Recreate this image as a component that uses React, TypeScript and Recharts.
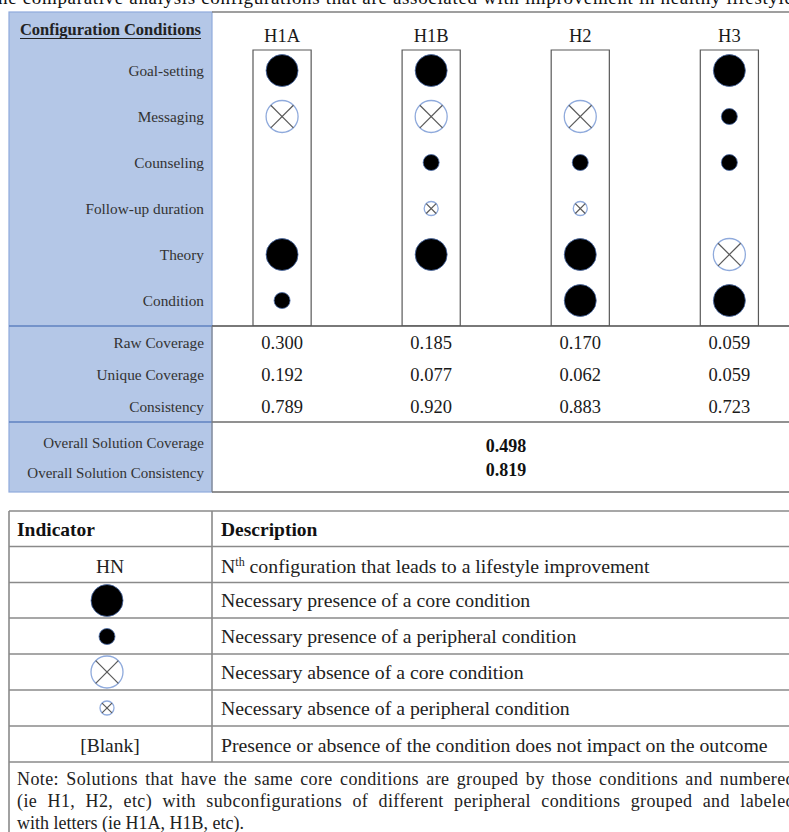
import React from 'react';
import { ScatterChart, Scatter, XAxis, YAxis, ReferenceArea } from 'recharts';

const SERIF = '"Liberation Serif", "Times New Roman", serif';

const CONFIGS = ['H1A', 'H1B', 'H2', 'H3'];
const CONDITIONS = ['Goal-setting', 'Messaging', 'Counseling', 'Follow-up duration', 'Theory', 'Condition'];
// C = core presence, P = peripheral presence, X = core absence, x = peripheral absence, '' = blank
const H1A = ['C', 'X', '', '', 'C', 'P'];
const H1B = ['C', 'X', 'P', 'x', 'C', ''];
const H2 = ['', 'X', 'P', 'x', 'C', 'C'];
const H3 = ['C', 'P', 'P', '', 'X', 'C'];
const COLUMNS = [H1A, H1B, H2, H3];

const METRICS = ['Raw Coverage', 'Unique Coverage', 'Consistency'];
const RAW_COVERAGE = [0.3, 0.185, 0.17, 0.059];
const UNIQUE_COVERAGE = [0.192, 0.077, 0.062, 0.059];
const CONSISTENCY = [0.789, 0.92, 0.883, 0.723];
const METRIC_VALUES = [RAW_COVERAGE, UNIQUE_COVERAGE, CONSISTENCY];

const OVERALL_LABELS = ['Overall Solution Coverage', 'Overall Solution Consistency'];
const OVERALL_COVERAGE = 0.498;
const OVERALL_CONSISTENCY = 0.819;

const LEGEND_KINDS = ['HN', 'C', 'P', 'X', 'x', '[Blank]'];
const LEGEND_TEXT = [
  'configuration that leads to a lifestyle improvement',
  'Necessary presence of a core condition',
  'Necessary presence of a peripheral condition',
  'Necessary absence of a core condition',
  'Necessary absence of a peripheral condition',
  'Presence or absence of the condition does not impact on the outcome',
];
const NOTE_LINES = [
  'Note: Solutions that have the same core conditions are grouped by those conditions and numbered',
  '(ie H1, H2, etc) with subconfigurations of different peripheral conditions grouped and labeled',
  'with letters (ie H1A, H1B, etc).',
];

const gridPoints = COLUMNS.flatMap((col, i) =>
  col.map((kind, j) => ({ x: i, y: j, kind }))
).filter((d) => d.kind !== '');

const metricPoints = METRIC_VALUES.flatMap((vals, j) =>
  vals.map((v, i) => ({ x: i, y: j, value: v }))
);

const X_DOMAIN: [number, number] = [-0.47, 3.4];
const NOTE_FONT = 18;
const NOTE_WIDTH = 778;
const NOTE_LETTER = 0.4;

// word spacing that justifies a note line to NOTE_WIDTH
function justifySpacing(line: string) {
  if (typeof document === 'undefined') return 3;
  const ctx = document.createElement('canvas').getContext('2d');
  if (!ctx) return 3;
  ctx.font = `${NOTE_FONT}px ${SERIF}`;
  const w = ctx.measureText(line).width + NOTE_LETTER * line.length;
  const gaps = line.split(' ').length - 1;
  return Math.max(0, (NOTE_WIDTH - w) / gaps);
}

function Marker({ cx, cy, kind }: { cx: number; cy: number; kind: string }) {
  if (kind === 'C' || kind === 'P') {
    return <circle cx={cx} cy={cy} r={kind === 'C' ? 16 : 8} fill="#000" stroke="#4a6cab" strokeWidth={0.8} />;
  }
  if (kind === 'X' || kind === 'x') {
    const r = kind === 'X' ? 16 : 7;
    const d = r * 0.707;
    return (
      <g>
        <circle cx={cx} cy={cy} r={r} fill="#fff" stroke="#8faadc" strokeWidth={1.3} />
        <line x1={cx - d} y1={cy - d} x2={cx + d} y2={cy + d} stroke="#595959" strokeWidth={1.2} />
        <line x1={cx - d} y1={cy + d} x2={cx + d} y2={cy - d} stroke="#595959" strokeWidth={1.2} />
      </g>
    );
  }
  return null;
}

const tickStyle = { fill: '#333', fontSize: 15.3, fontFamily: SERIF };

function Background() {
  const rows = [511, 546.5, 582.5, 618, 654, 690, 726, 762];
  const centers = [566, 600.5, 636.5, 672, 708, 745];
  return (
    <svg width={789} height={832} style={{ position: 'absolute', left: 0, top: 0 }}>
      <text x={-2} y={4} fontSize={19} fontFamily={SERIF} fill="#111" textLength={795} lengthAdjust="spacing">
        he comparative analysis configurations that are associated with improvement in healthy lifestyle
      </text>
      {/* upper table */}
      <rect x={9} y={12} width={203} height={480} fill="#b4c7e7" stroke="#8faadc" strokeWidth={1.2} />
      <line x1={212} y1={12} x2={789} y2={12} stroke="#7f7f7f" strokeWidth={1.3} />
      <line x1={9} y1={326} x2={212} y2={326} stroke="#5f82c0" strokeWidth={1.3} />
      <line x1={212} y1={326} x2={789} y2={326} stroke="#4d4d4d" strokeWidth={1.3} />
      <line x1={9} y1={422} x2={212} y2={422} stroke="#5f82c0" strokeWidth={1.3} />
      <line x1={212} y1={422} x2={789} y2={422} stroke="#6d6d6d" strokeWidth={1.3} />
      <line x1={212} y1={492} x2={789} y2={492} stroke="#6d6d6d" strokeWidth={1.3} />
      <line x1={212} y1={326} x2={212} y2={492} stroke="#7f7f7f" strokeWidth={1} />
      <text x={201} y={35} textAnchor="end" fontSize={16.5} fontWeight="bold" fontFamily={SERIF} fill="#222">
        Configuration Conditions
      </text>
      <line x1={20} y1={38.5} x2={201} y2={38.5} stroke="#222" strokeWidth={1} />
      {OVERALL_LABELS.map((t, i) => (
        <text key={t} x={204} y={443 + i * 30} dy="0.35em" textAnchor="end" fontSize={15} fontFamily={SERIF} fill="#333">
          {t}
        </text>
      ))}
      {[OVERALL_COVERAGE, OVERALL_CONSISTENCY].map((v, i) => (
        <text key={i} x={506} y={446 + i * 23.5} dy="0.35em" textAnchor="middle" fontSize={18} fontWeight="bold" fontFamily={SERIF} fill="#111">
          {v.toFixed(3)}
        </text>
      ))}
      {/* legend table */}
      {rows.map((y) => (
        <line key={y} x1={9} y1={y} x2={789} y2={y} stroke="#8a8a8a" strokeWidth={1.6} />
      ))}
      <line x1={9} y1={511} x2={9} y2={832} stroke="#8a8a8a" strokeWidth={1.6} />
      <line x1={212} y1={511} x2={212} y2={762} stroke="#8a8a8a" strokeWidth={1.6} />
      <text x={17} y={529} dy="0.35em" fontSize={19.5} fontWeight="bold" fontFamily={SERIF} fill="#111">Indicator</text>
      <text x={221} y={529} dy="0.35em" fontSize={19.5} fontWeight="bold" fontFamily={SERIF} fill="#111">Description</text>
      {LEGEND_KINDS.map((k, i) =>
        k.length > 1 ? (
          <text key={k} x={110} y={centers[i]} dy="0.35em" textAnchor="middle" fontSize={19.5} fontFamily={SERIF} fill="#222">{k}</text>
        ) : (
          <Marker key={k} cx={107} cy={centers[i]} kind={k} />
        )
      )}
      {LEGEND_TEXT.map((t, i) =>
        i === 0 ? (
          <text key={t} x={221} y={centers[i]} dy="0.35em" fontSize={19.8} fontFamily={SERIF} fill="#222">
            N<tspan fontSize={12} dy={-7}>th</tspan>
            <tspan dy={7}> {t}</tspan>
          </text>
        ) : (
          <text key={t} x={221} y={centers[i]} dy="0.35em" fontSize={19.8} fontFamily={SERIF} fill="#222">{t}</text>
        )
      )}
      {NOTE_LINES.map((t, i) => (
        <text
          key={t}
          x={17}
          y={785 + i * 22}
          fontSize={NOTE_FONT}
          fontFamily={SERIF}
          fill="#222"
          style={i < 2 ? { wordSpacing: `${justifySpacing(t)}px`, letterSpacing: `${NOTE_LETTER}px` } : undefined}
        >
          {t}
        </text>
      ))}
    </svg>
  );
}

export default function App() {
  return (
    <div style={{ position: 'absolute', left: 0, top: 0, width: 789, height: 832, overflow: 'hidden', background: '#fff' }}>
      <Background />
      <div style={{ position: 'absolute', left: 0, top: 0 }}>
        <ScatterChart width={789} height={326} margin={{ top: 20, right: 0, bottom: 0, left: 0 }}>
          <XAxis
            type="number"
            dataKey="x"
            orientation="top"
            domain={X_DOMAIN}
            allowDataOverflow
            ticks={[0, 1, 2, 3]}
            interval={0}
            tickFormatter={(v: number) => CONFIGS[v]}
            height={30}
            axisLine={false}
            tickLine={false}
            tickSize={0}
            tickMargin={8}
            tick={{ fill: '#1a1a1a', fontSize: 18.5, fontFamily: SERIF }}
          />
          <YAxis
            type="number"
            dataKey="y"
            reversed
            domain={[-0.446, 5.554]}
            allowDataOverflow
            ticks={[0, 1, 2, 3, 4, 5]}
            interval={0}
            tickFormatter={(v: number) => CONDITIONS[v]}
            width={212}
            axisLine={false}
            tickLine={false}
            tickSize={0}
            tickMargin={8}
            tick={tickStyle}
          />
          {CONFIGS.map((c, i) => (
            <ReferenceArea key={c} x1={i - 0.195} x2={i + 0.195} fill="none" stroke="#595959" strokeWidth={1.2} ifOverflow="visible" />
          ))}
          <Scatter
            data={gridPoints}
            isAnimationActive={false}
            shape={(p: any) => <Marker cx={p.cx} cy={p.cy} kind={p.payload.kind} />}
          />
        </ScatterChart>
      </div>
      <div style={{ position: 'absolute', left: 0, top: 326 }}>
        <ScatterChart width={789} height={96} margin={{ top: 0, right: 0, bottom: 0, left: 0 }}>
          <XAxis type="number" dataKey="x" hide domain={X_DOMAIN} allowDataOverflow />
          <YAxis
            type="number"
            dataKey="y"
            reversed
            domain={[-0.531, 2.469]}
            allowDataOverflow
            ticks={[0, 1, 2]}
            interval={0}
            tickFormatter={(v: number) => METRICS[v]}
            width={212}
            axisLine={false}
            tickLine={false}
            tickSize={0}
            tickMargin={8}
            tick={tickStyle}
          />
          <Scatter
            data={metricPoints}
            isAnimationActive={false}
            shape={(p: any) => (
              <text x={p.cx} y={p.cy} dy="0.35em" textAnchor="middle" fontSize={18.5} fontFamily={SERIF} fill="#1a1a1a">
                {p.payload.value.toFixed(3)}
              </text>
            )}
          />
        </ScatterChart>
      </div>
    </div>
  );
}
